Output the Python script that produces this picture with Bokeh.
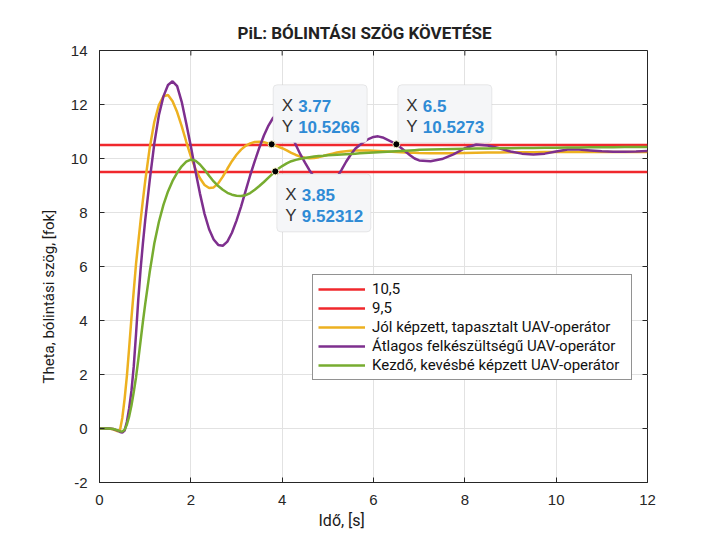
from bokeh.plotting import figure
from bokeh.models import (Range1d, FixedTicker, Legend, LegendItem,
                          Label, BoxAnnotation, Title)
from bokeh.embed import file_html
from bokeh.resources import INLINE

# ---------------- data ----------------
T = [0, 0.1, 0.2, 0.3, 0.35, 0.4, 0.45, 0.5, 0.55, 0.6, 0.65, 0.7, 0.75, 0.8, 0.85, 0.9, 0.95, 1.0,
     1.1, 1.2, 1.3, 1.4, 1.5, 1.6, 1.7, 1.8, 1.9, 2.0,
     2.1, 2.2, 2.3, 2.4, 2.5, 2.6, 2.7, 2.8, 2.9, 3.0,
     3.1, 3.2, 3.3, 3.4, 3.5, 3.6, 3.7, 3.8, 3.9, 4.0,
     4.1, 4.2, 4.3, 4.4, 4.5, 4.6, 4.7, 4.8, 4.9, 5.0,
     5.1, 5.2, 5.3, 5.4, 5.5, 5.6, 5.7, 5.8, 5.9, 6.0,
     6.1, 6.2, 6.3, 6.4, 6.5, 6.6, 6.7, 6.8, 6.9, 7.0,
     7.25, 7.5, 7.75, 8.0, 8.25, 8.5, 8.75, 9.0, 9.25, 9.5,
     9.75, 10.0, 10.25, 10.5, 10.75, 11.0, 11.25, 11.5, 11.75, 12.0]

# Jól képzett, tapasztalt UAV-operátor
JOL = [0, 0, 0, -0.03, -0.07, -0.1, -0.05, 0.4, 1.1, 1.95, 3.0, 4.1, 5.1, 6.1, 6.9, 7.7, 8.45, 9.15,
       10.4, 11.35, 11.98, 12.3, 12.35, 12.12, 11.72, 11.2, 10.62, 10.08,
       9.62, 9.27, 9.02, 8.91, 8.93, 9.08, 9.33, 9.62, 9.9, 10.14,
       10.33, 10.47, 10.56, 10.61, 10.62, 10.6, 10.56, 10.51, 10.45, 10.38,
       10.3, 10.21, 10.13, 10.07, 10.03, 10.01, 10.02, 10.05, 10.09, 10.14,
       10.18, 10.22, 10.25, 10.27, 10.29, 10.3, 10.3, 10.3, 10.3, 10.29,
       10.28, 10.27, 10.26, 10.25, 10.24, 10.23, 10.22, 10.21, 10.21, 10.2,
       10.19, 10.19, 10.19, 10.2, 10.21, 10.22, 10.22, 10.23, 10.23, 10.23,
       10.24, 10.24, 10.24, 10.24, 10.24, 10.24, 10.24, 10.24, 10.24, 10.24]

# Átlagos felkészültségű UAV-operátor
ATL = [0, 0, 0, -0.02, -0.05, -0.08, -0.13, -0.15, -0.08, 0.25, 0.75, 1.4, 2.3, 3.5, 4.8, 5.9, 6.85, 7.7,
       9.2, 10.55, 11.6, 12.3, 12.72, 12.86, 12.68, 12.1, 11.3, 10.45,
       9.55, 8.7, 7.95, 7.38, 7.0, 6.8, 6.77, 6.92, 7.25, 7.7,
       8.22, 8.8, 9.38, 9.9, 10.4, 10.85, 11.22, 11.5, 11.65, 11.6,
       11.3, 10.9, 10.5, 10.15, 9.85, 9.56, 9.32, 9.15, 9.05, 9.03,
       9.12, 9.3, 9.58, 9.88, 10.14, 10.36, 10.5, 10.63, 10.73, 10.8,
       10.82, 10.78, 10.7, 10.62, 10.527, 10.4, 10.26, 10.12, 10.0, 9.93,
       9.9, 9.98, 10.15, 10.38, 10.52, 10.48, 10.38, 10.26, 10.18, 10.15,
       10.18, 10.26, 10.33, 10.33, 10.3, 10.27, 10.25, 10.25, 10.26, 10.28]

# Kezdő, kevésbé képzett UAV-operátor
KEZ = [0, 0, 0, -0.02, -0.04, -0.07, -0.1, -0.11, -0.05, 0.15, 0.45, 0.85, 1.35, 1.9, 2.55, 3.25, 3.95, 4.6,
       5.8, 6.85, 7.65, 8.28, 8.78, 9.17, 9.47, 9.71, 9.88, 9.96,
       9.92, 9.78, 9.58, 9.36, 9.15, 8.98, 8.84, 8.73, 8.66, 8.62,
       8.61, 8.64, 8.72, 8.84, 8.98, 9.13, 9.29, 9.45, 9.6, 9.72,
       9.82, 9.9, 9.95, 9.99, 10.02, 10.05, 10.07, 10.09, 10.1, 10.12,
       10.13, 10.14, 10.15, 10.16, 10.17, 10.18, 10.19, 10.2, 10.21, 10.22,
       10.23, 10.24, 10.25, 10.26, 10.27, 10.28, 10.29, 10.3, 10.31, 10.32,
       10.33, 10.34, 10.35, 10.36, 10.37, 10.37, 10.38, 10.38, 10.39, 10.39,
       10.4, 10.4, 10.41, 10.41, 10.42, 10.42, 10.42, 10.43, 10.43, 10.43]

REF_HI = 10.5
REF_LO = 9.5

X_TICKS = [0, 2, 4, 6, 8, 10, 12]
Y_TICKS = [-2, 0, 2, 4, 6, 8, 10, 12, 14]

LEGEND_LABELS = ["10,5", "9,5",
                 "Jól képzett, tapasztalt UAV-operátor",
                 "Átlagos felkészültségű UAV-operátor",
                 "Kezdő, kevésbé képzett UAV-operátor"]

TIP_X = [3.77, 3.85, 6.5]
TIP_Y = [10.5266, 9.52312, 10.5273]
TIP_X_TXT = ["3.77", "3.85", "6.5"]
TIP_Y_TXT = ["10.5266", "9.52312", "10.5273"]
TIP_SIDE = ["up", "down", "up"]

TITLE = "PiL: BÓLINTÁSI SZÖG KÖVETÉSE"
X_TITLE = "Idő, [s]"
Y_TITLE = "Theta, bólintási szög, [fok]"

# ---------------- style ----------------
NARROW = "Roboto"
SANS = "Liberation Sans"
AX = "#262626"
RED = "#f0282d"
ORANGE = "#EDB120"
PURPLE = "#7E2F8E"
GREEN = "#77AC30"

FW, FH = 548, 432
PPX = FW / (X_TICKS[-1] - X_TICKS[0])
PPY = FH / (Y_TICKS[-1] - Y_TICKS[0])
TICK = 5

p = figure(frame_width=FW, frame_height=FH,
           x_range=Range1d(X_TICKS[0], X_TICKS[-1]),
           y_range=Range1d(Y_TICKS[0], Y_TICKS[-1]),
           output_backend="svg", toolbar_location=None,
           min_border_left=20, min_border_right=40,
           min_border_top=50, min_border_bottom=47,
           margin=(0, 0, 0, 27),
           title=TITLE)

p.title.text_font = NARROW
p.title.text_font_size = "17px"
p.title.text_font_style = "bold"
p.title.text_color = "#222222"
p.title.align = "left"
p.title.offset = 138
p.title.standoff = 15

p.outline_line_color = AX
p.outline_line_width = 1
p.background_fill_color = "white"
p.border_fill_color = "white"

for ax, ticks in ((p.xaxis[0], X_TICKS), (p.yaxis[0], Y_TICKS)):
    ax.ticker = FixedTicker(ticks=ticks)
    ax.major_tick_in = TICK
    ax.major_tick_out = 0
    ax.minor_tick_line_color = None
    ax.axis_line_color = AX
    ax.major_tick_line_color = AX
    ax.major_label_text_font = SANS
    ax.major_label_text_font_size = "15px"
    ax.major_label_text_color = AX
    ax.major_label_overrides = {t: str(t) for t in ticks if t < 0}

p.xaxis.major_label_standoff = 12
p.yaxis.major_label_standoff = 12

# axis titles, positioned along the axes as in the reference
p.add_layout(Title(text=X_TITLE, align="left", offset=219, standoff=2,
                   text_font=NARROW, text_font_size="16px", text_font_style="normal",
                   text_color="#1a1a1a"), "below")
p.add_layout(Title(text=Y_TITLE, align="left", offset=99, standoff=20,
                   text_font=NARROW, text_font_size="15px", text_font_style="normal",
                   text_color="#1a1a1a"), "left")

p.xgrid.ticker = FixedTicker(ticks=X_TICKS)
p.ygrid.ticker = FixedTicker(ticks=Y_TICKS)
p.xgrid.grid_line_color = "#e2e2e2"
p.ygrid.grid_line_color = "#e2e2e2"

# inward ticks on the top and right edges of the box
p.segment(x0=X_TICKS, x1=X_TICKS,
          y0=[Y_TICKS[-1]] * len(X_TICKS), y1=[Y_TICKS[-1] - TICK / PPY] * len(X_TICKS),
          line_color=AX, line_width=1)
p.segment(x0=[X_TICKS[-1]] * len(Y_TICKS), x1=[X_TICKS[-1] - TICK / PPX] * len(Y_TICKS),
          y0=Y_TICKS, y1=Y_TICKS, line_color=AX, line_width=1)

LW = 2.5
r_hi = p.line([T[0], T[-1]], [REF_HI, REF_HI], line_color=RED, line_width=LW)
r_lo = p.line([T[0], T[-1]], [REF_LO, REF_LO], line_color=RED, line_width=LW)
r_jol = p.line(T, JOL, line_color=ORANGE, line_width=LW)
r_atl = p.line(T, ATL, line_color=PURPLE, line_width=LW)
r_kez = p.line(T, KEZ, line_color=GREEN, line_width=LW)

legend = Legend(items=[LegendItem(label=l, renderers=[r]) for l, r in
                       zip(LEGEND_LABELS, [r_hi, r_lo, r_jol, r_atl, r_kez])],
                location=(213, 102), margin=0, padding=5, spacing=1,
                glyph_width=47, glyph_height=18, label_standoff=7, label_width=254,
                label_text_font=NARROW, label_text_font_size="15px",
                label_text_color="#111111",
                border_line_color=AX, border_line_width=1,
                background_fill_color="white", background_fill_alpha=1)
p.add_layout(legend)

# ---------------- data tips ----------------
for tx, ty, sx, sy, side in zip(TIP_X, TIP_Y, TIP_X_TXT, TIP_Y_TXT, TIP_SIDE):
    if side == "up":
        b_bot, b_top = ty + 1.5 / PPY, ty + 59.5 / PPY
        r1, r2 = 38.5, 17.5
    else:
        b_top, b_bot = ty - 2.5 / PPY, ty - 60.5 / PPY
        r1, r2 = -23.5, -44.5
    p.add_layout(BoxAnnotation(left=tx + 1.5 / PPX, right=tx + 95.5 / PPX,
                               bottom=b_bot, top=b_top,
                               fill_color="#f5f6f8", fill_alpha=1,
                               line_color="#bdbdbd", line_width=1, border_radius=4))
    for dy, key, val in ((r1, "X", sx), (r2, "Y", sy)):
        p.add_layout(Label(x=tx, y=ty, x_offset=10, y_offset=dy, text=key,
                           text_font=SANS, text_font_size="17px", text_color="#333333",
                           text_baseline="alphabetic", text_align="left"))
        p.add_layout(Label(x=tx, y=ty, x_offset=26.5, y_offset=dy, text=val,
                           text_font=SANS, text_font_size="17px", text_font_style="bold",
                           text_color="#2f8bd5",
                           text_baseline="alphabetic", text_align="left"))

p.scatter(TIP_X, TIP_Y, size=7, fill_color="black", line_color="#f3efc4",
          line_width=1, level="overlay")

open("out.html", "w").write(file_html(p, INLINE))
